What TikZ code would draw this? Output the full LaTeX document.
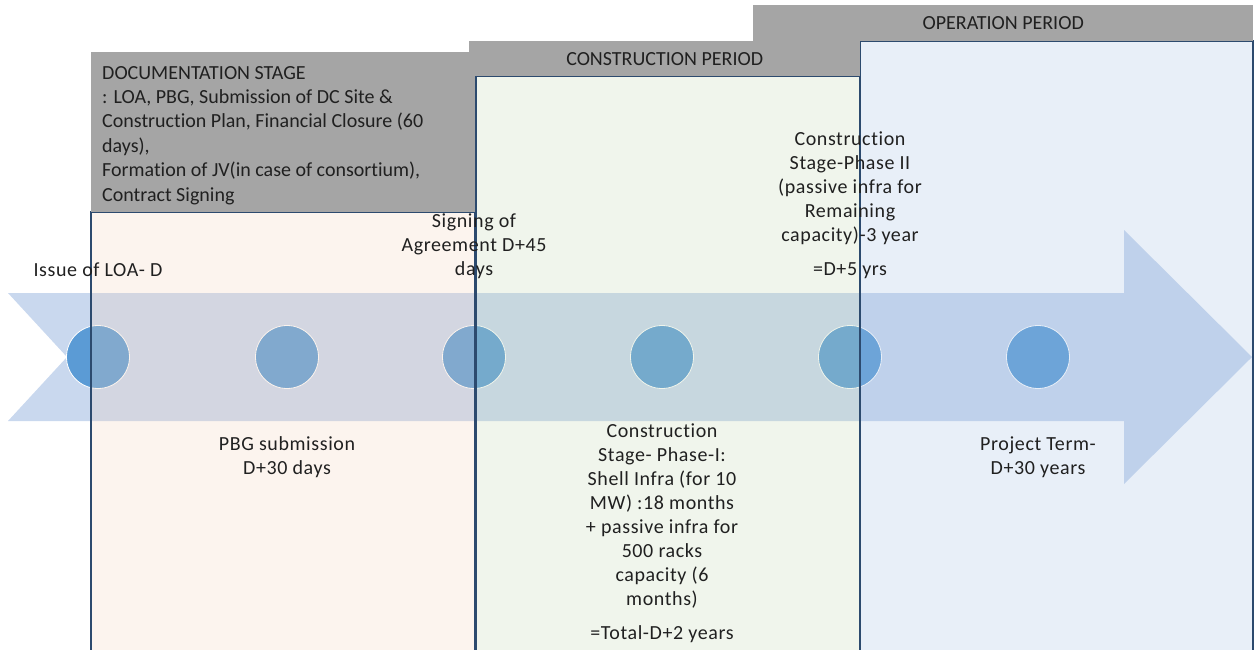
\documentclass[tikz,border=0pt]{standalone}
\usepackage{fontspec}
\setmainfont{Carlito}[Ligatures={NoCommon}]
\newfontfamily\lblfont[LetterSpace=3,Ligatures={NoCommon}]{Carlito}
\definecolor{arrowc}{HTML}{C9D8EE}
\definecolor{dotc}{HTML}{5B9BD5}
\definecolor{docf}{HTML}{F3D3BB}
\definecolor{conf}{HTML}{C3D7B3}
\definecolor{opf}{HTML}{A3BFE3}
\definecolor{edgec}{HTML}{2C4A6E}
\definecolor{hdrc}{HTML}{A5A5A5}
\definecolor{txtc}{HTML}{202020}
\tikzset{
  dot/.style={circle, fill=dotc, draw=white, line width=0.8pt, minimum size=63pt, inner sep=0pt},
  stage/.style={draw=edgec, line width=1.6pt, fill opacity=0.25},
  hdr/.style={fill=hdrc, draw=none, inner sep=0pt, anchor=north west, text=txtc, font=\fontsize{20}{24.4}\selectfont},
  lbl/.style={font=\lblfont\fontsize{20}{24}\selectfont, text=txtc, align=center, inner sep=0pt, anchor=base},
  doctxt/.style={font=\fontsize{20}{24.4}\selectfont, text=txtc, align=left, inner sep=0pt, anchor=base west}
}
\begin{document}
\begin{tikzpicture}[x=1pt,y=-1pt]
\useasboundingbox (0,0) rectangle (1256,649);
\clip (0,0) rectangle (1256,649);
% timeline arrow
\fill[arrowc] (8,293) -- (1124,293) -- (1124,230) -- (1252,357) -- (1124,484) -- (1124,421) -- (8,421) -- (67,357) -- cycle;
% milestones
\node[dot] (d1) at (98,357) {};
\node[dot] (d2) at (287,357) {};
\node[dot] (d3) at (474,357) {};
\node[dot] (d4) at (662,357) {};
\node[dot] (d5) at (850,357) {};
\node[dot] (d6) at (1038,357) {};
% stage areas
\draw[stage, fill=docf] (91,212) rectangle (475,655);
\draw[stage, fill=conf] (476,76) rectangle (860,655);
\draw[stage, fill=opf] (860,41) rectangle (1253,655);
% headers
\node[hdr, minimum width=384pt, minimum height=160pt] (dochdr) at (91,52) {};
\node[hdr, minimum width=391pt, minimum height=35pt] (conhdr) at (469,41) {};
\node[hdr, minimum width=500pt, minimum height=36pt] (ophdr) at (753,5) {};
\node[hdr, anchor=center, fill=none] (contitle) at (conhdr.center) {CONSTRUCTION PERIOD};
\node[hdr, anchor=center, fill=none] (optitle) at (ophdr.center) {OPERATION PERIOD};
\node[doctxt] (doctext) at (102,201) {DOCUMENTATION STAGE\\: LOA, PBG, Submission of DC Site \&\\Construction Plan, Financial Closure (60\\days),\\Formation of JV(in case of consortium),\\Contract Signing};
% labels (anchored at the baseline of the last line)
\node[lbl] (l1) at (98,276) {Issue of LOA- D};
\node[lbl] (l2) at (287,474) {PBG submission\\D+30 days};
\node[lbl] (l3) at (474,275) {Signing of\\Agreement D+45\\days};
\node[lbl] (l4) at (662,639) {Construction\\Stage- Phase-I:\\Shell Infra (for 10\\MW) :18 months\\+ passive infra for\\500 racks\\capacity (6\\months)\\[10pt]=Total-D+2 years};
\node[lbl] (l5) at (850,275) {Construction\\Stage-Phase II\\(passive infra for\\Remaining\\capacity)-3 year\\[10pt]=D+5 yrs};
\node[lbl] (l6) at (1038,474) {Project Term-\\D+30 years};
\end{tikzpicture}
\end{document}
